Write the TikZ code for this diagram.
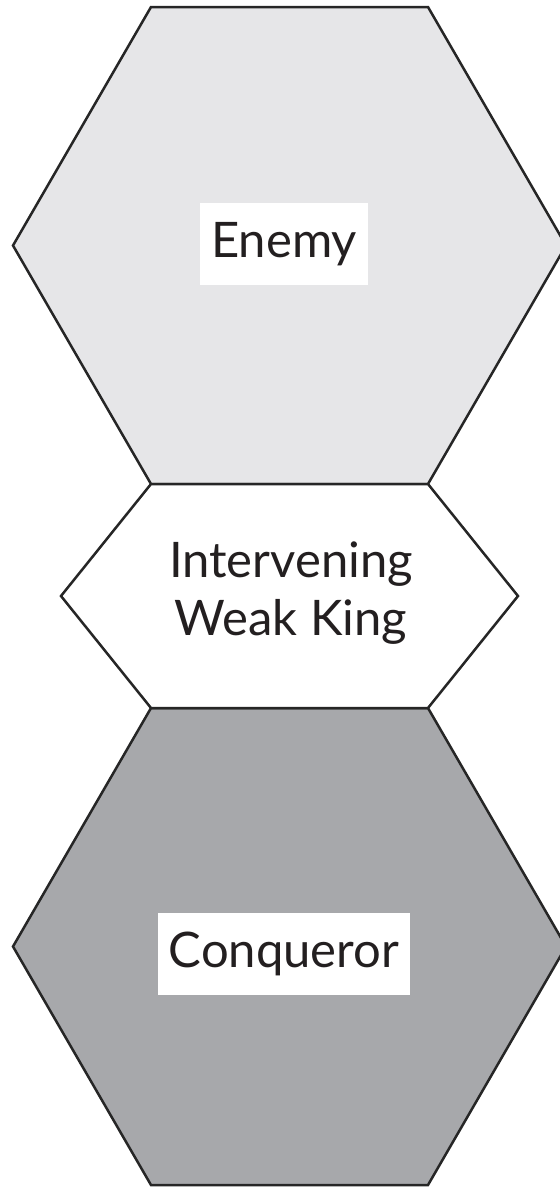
\documentclass[tikz,border=0pt]{standalone}
\usepackage{fontspec}
\setmainfont{Lato}
\definecolor{lightfill}{HTML}{E6E6E8}
\definecolor{darkfill}{HTML}{A7A8AB}
\definecolor{textcol}{HTML}{231F20}
\begin{document}
\begin{tikzpicture}[x=1pt,y=-1pt,
  hexline/.style={draw=black!85,line width=2.5pt,line join=miter},
  labelbox/.style={fill=white,inner xsep=11pt,minimum height=82pt,font=\fontsize{49}{58}\selectfont,text=textcol},
  plainlabel/.style={align=center,font=\fontsize{49}{58}\selectfont,text=textcol}]
\useasboundingbox (0,0) rectangle (560,1187);
% top hexagon
\coordinate (t1) at (151,7);
\coordinate (t2) at (428,7);
\coordinate (t3) at (566,245.5);
\coordinate (t4) at (428,484);
\coordinate (t5) at (151,484);
\coordinate (t6) at (13,245.5);
\filldraw[hexline,fill=lightfill] (t1)--(t2)--(t3)--(t4)--(t5)--(t6)--cycle;
% bottom hexagon
\coordinate (b1) at (151,708);
\coordinate (b2) at (428,708);
\coordinate (b3) at (566,946.5);
\coordinate (b4) at (428,1185);
\coordinate (b5) at (151,1185);
\coordinate (b6) at (13,946.5);
\filldraw[hexline,fill=darkfill] (b1)--(b2)--(b3)--(b4)--(b5)--(b6)--cycle;
% middle hexagon
\coordinate (m3) at (518,596);
\coordinate (m6) at (61,596);
\filldraw[hexline,fill=white] (t5)--(t4)--(m3)--(b2)--(b1)--(m6)--cycle;
% labels
\node[labelbox] (enemy) at (284,244) {Enemy};
\node[plainlabel] (weak) at (291,593) {Intervening\\Weak King};
\node[labelbox] (conq) at (284,954) {Conqueror};
\end{tikzpicture}
\end{document}
